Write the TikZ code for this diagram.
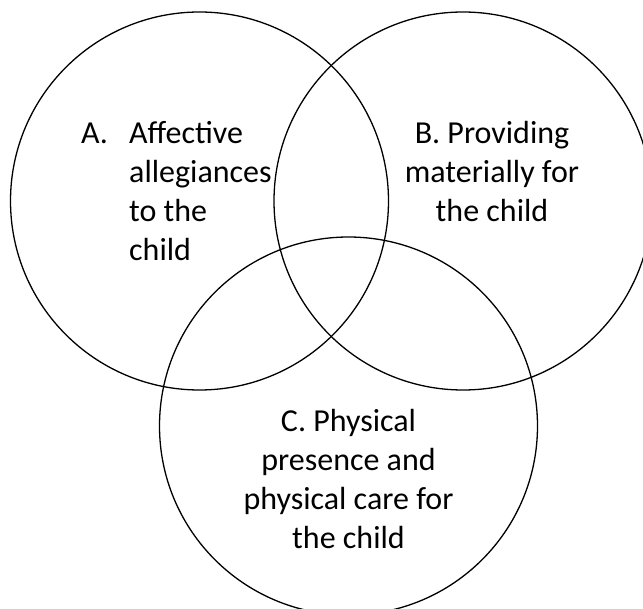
\documentclass[tikz,border=0pt]{standalone}
\usepackage{fontspec}
\setmainfont{Carlito}
\begin{document}
\begin{tikzpicture}[x=1pt,y=-1pt,
  venncircle/.style={draw,circle,line width=1.3pt,minimum size=378pt,inner sep=0pt},
  venntext/.style={font=\fontsize{32}{39}\selectfont,inner sep=0pt,anchor=base}]
  \useasboundingbox (0,0) rectangle (643,609);
  \clip (0,0) rectangle (643,609);
  % the three sets
  \node[venncircle] (A) at (199.5,201) {};
  \node[venncircle] (B) at (463,201) {};
  \node[venncircle] (C) at (348.5,426) {};
  % labels (base = last line)
  \node[venntext,anchor=base west] (labelA) at (81,144) {A.};
  \node[venntext,anchor=base west,align=left] (textA) at (129,261) {Affective\\allegiances\\to the\\child};
  \node[venntext,align=center] (textB) at (492,222) {B. Providing\\materially for\\the child};
  \node[venntext,align=center] (textC) at (348.5,548) {C. Physical\\presence and\\physical care for\\the child};
\end{tikzpicture}
\end{document}
